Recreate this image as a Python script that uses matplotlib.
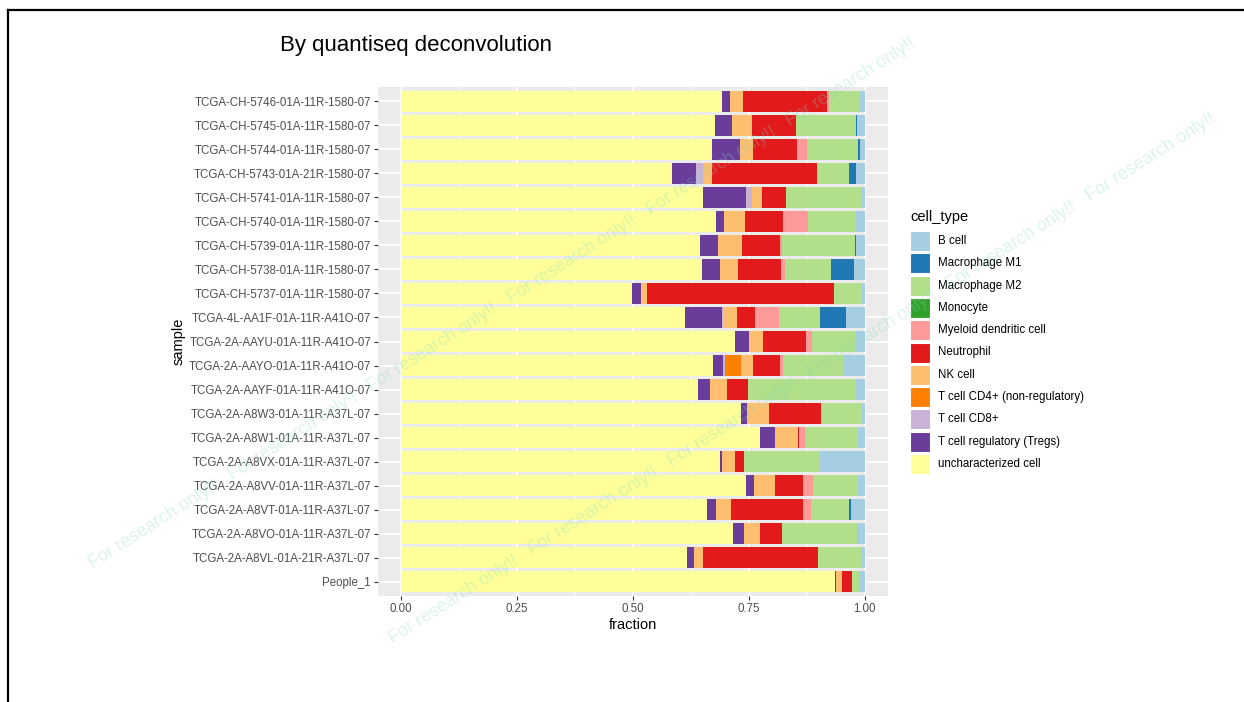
import matplotlib
matplotlib.use("Agg")
import matplotlib.pyplot as plt
from matplotlib.lines import Line2D
from matplotlib.patches import Rectangle
import numpy as np

plt.rcParams['font.family'] = ['Liberation Sans', 'DejaVu Sans']

# samples, listed top to bottom as in the chart
samples = [
    "TCGA-CH-5746-01A-11R-1580-07", "TCGA-CH-5745-01A-11R-1580-07",
    "TCGA-CH-5744-01A-11R-1580-07", "TCGA-CH-5743-01A-21R-1580-07",
    "TCGA-CH-5741-01A-11R-1580-07", "TCGA-CH-5740-01A-11R-1580-07",
    "TCGA-CH-5739-01A-11R-1580-07", "TCGA-CH-5738-01A-11R-1580-07",
    "TCGA-CH-5737-01A-11R-1580-07", "TCGA-4L-AA1F-01A-11R-A41O-07",
    "TCGA-2A-AAYU-01A-11R-A41O-07", "TCGA-2A-AAYO-01A-11R-A41O-07",
    "TCGA-2A-AAYF-01A-11R-A41O-07", "TCGA-2A-A8W3-01A-11R-A37L-07",
    "TCGA-2A-A8W1-01A-11R-A37L-07", "TCGA-2A-A8VX-01A-11R-A37L-07",
    "TCGA-2A-A8VV-01A-11R-A37L-07", "TCGA-2A-A8VT-01A-11R-A37L-07",
    "TCGA-2A-A8VO-01A-11R-A37L-07", "TCGA-2A-A8VL-01A-21R-A37L-07",
    "People_1",
]

cell_types = ["B cell", "Macrophage M1", "Macrophage M2", "Monocyte",
              "Myeloid dendritic cell", "Neutrophil", "NK cell",
              "T cell CD4+ (non-regulatory)", "T cell CD8+",
              "T cell regulatory (Tregs)", "uncharacterized cell"]

# RColorBrewer "Paired"
colors = ["#A6CEE3", "#1F78B4", "#B2DF8A", "#33A02C", "#FB9A99", "#E31A1C",
          "#FDBF6F", "#FF7F00", "#CAB2D6", "#6A3D9A", "#FFFF99"]

# fractions per cell type, same order as samples
uncharacterized = [0.692, 0.676, 0.670, 0.584, 0.650, 0.678, 0.645, 0.648, 0.497, 0.613, 0.719,
                   0.672, 0.641, 0.734, 0.774, 0.687, 0.743, 0.659, 0.715, 0.617, 0.936]
tregs = [0.017, 0.038, 0.060, 0.051, 0.093, 0.019, 0.039, 0.039, 0.020, 0.079, 0.032,
         0.022, 0.024, 0.011, 0.032, 0.004, 0.019, 0.019, 0.024, 0.014, 0.002]
cd8 = [0, 0, 0, 0.017, 0.013, 0, 0, 0, 0, 0.003, 0,
       0.004, 0, 0, 0, 0, 0, 0, 0, 0, 0]
cd4 = [0, 0, 0, 0, 0, 0, 0, 0, 0, 0, 0,
       0.034, 0, 0, 0, 0, 0, 0, 0, 0, 0]
nk = [0.028, 0.042, 0.029, 0.018, 0.023, 0.045, 0.052, 0.040, 0.013, 0.029, 0.029,
      0.026, 0.038, 0.048, 0.049, 0.029, 0.045, 0.033, 0.034, 0.019, 0.012]
neutrophil = [0.181, 0.095, 0.095, 0.226, 0.052, 0.082, 0.080, 0.092, 0.403, 0.039, 0.094,
              0.060, 0.045, 0.112, 0.002, 0.019, 0.059, 0.156, 0.048, 0.249, 0.023]
mdc = [0.004, 0, 0.022, 0, 0, 0.054, 0.006, 0.009, 0, 0.052, 0.011,
       0.006, 0, 0, 0.015, 0, 0.023, 0.016, 0, 0, 0]
monocyte = [0] * 21
m2 = [0.065, 0.129, 0.110, 0.070, 0.161, 0.102, 0.156, 0.100, 0.060, 0.089, 0.095,
      0.129, 0.234, 0.089, 0.114, 0.164, 0.097, 0.082, 0.162, 0.093, 0.015]
m1 = [0, 0.003, 0.003, 0.015, 0, 0, 0.004, 0.048, 0, 0.055, 0,
      0, 0, 0, 0, 0, 0, 0.006, 0, 0, 0]
bcell = [0.013, 0.017, 0.011, 0.019, 0.008, 0.020, 0.018, 0.024, 0.007, 0.041, 0.020,
         0.047, 0.018, 0.006, 0.014, 0.097, 0.014, 0.029, 0.017, 0.008, 0.012]

series = [bcell, m1, m2, monocyte, mdc, neutrophil, nk, cd4, cd8, tregs, uncharacterized]

W, H = 1244, 702
fig = plt.figure(figsize=(W / 100, H / 100), dpi=100)
ax = fig.add_axes([378 / W, 1 - 596 / H, 510 / W, 509 / H])
ax.set_facecolor("#EBEBEB")

y = np.arange(len(samples))[::-1]
left = np.zeros(len(samples))
# stack from the left: last level first (ggplot order)
for name, col, vals in reversed(list(zip(cell_types, colors, series))):
    vals = np.array(vals, dtype=float)
    ax.barh(y, vals, left=left, height=0.9, color=col, linewidth=0, zorder=3)
    left += vals

ax.set_xlim(-0.05, 1.05)
ax.set_ylim(-0.6, len(samples) - 0.4)
ax.set_xticks([0, 0.25, 0.5, 0.75, 1.0])
ax.set_xticklabels(["0.00", "0.25", "0.50", "0.75", "1.00"])
ax.set_xticks([0.125, 0.375, 0.625, 0.875], minor=True)
ax.set_yticks(y)
ax.set_yticklabels(samples)
ax.grid(True, which="major", color="white", linewidth=1.1, zorder=1)
ax.grid(True, which="minor", axis="x", color="white", linewidth=0.55, zorder=1)
ax.tick_params(axis="both", which="major", length=3, width=0.8, color="#333333",
               labelsize=8.3, labelcolor="#4D4D4D", pad=2)
ax.tick_params(axis="x", which="minor", length=0)
for s in ax.spines.values():
    s.set_visible(False)
ax.set_xlabel("fraction", fontsize=10.5, labelpad=2)
ax.set_ylabel("sample", fontsize=10.5, labelpad=2)

# legend drawn as ggplot guide: 20px keys, 22.3px row pitch
fig.text(910 / W, 1 - 217 / H, "cell_type", fontsize=10.5, ha="left", va="center")
for i, (name, col) in enumerate(zip(cell_types, colors)):
    yc = 241 + 22.3 * i
    fig.add_artist(Rectangle((910 / W, 1 - (yc + 10) / H), 20 / W, 20 / H,
                             transform=fig.transFigure, facecolor=col,
                             edgecolor="white", linewidth=0.8))
    fig.text(938 / W, 1 - yc / H, name, fontsize=8.3, ha="left", va="center")

fig.text(280 / W, 1 - 46 / H, "By quantiseq deconvolution", fontsize=16,
         ha="left", va="center")

# watermark
wm = "For research only!!   " * 6
for x0, y0 in [(90, 565), (390, 640)]:
    fig.text(x0 / W, 1 - y0 / H, wm, fontsize=13, color="#7ED9BE", alpha=0.28,
             rotation=32.4, rotation_mode="anchor", ha="left", va="center", zorder=10)

# page frame
fig.add_artist(Line2D([8 / W, 1], [1 - 9.5 / H] * 2, color="black", linewidth=1.6))
fig.add_artist(Line2D([8 / W] * 2, [0, 1 - 9.5 / H], color="black", linewidth=1.6))

fig.savefig("out.png", dpi=100)
